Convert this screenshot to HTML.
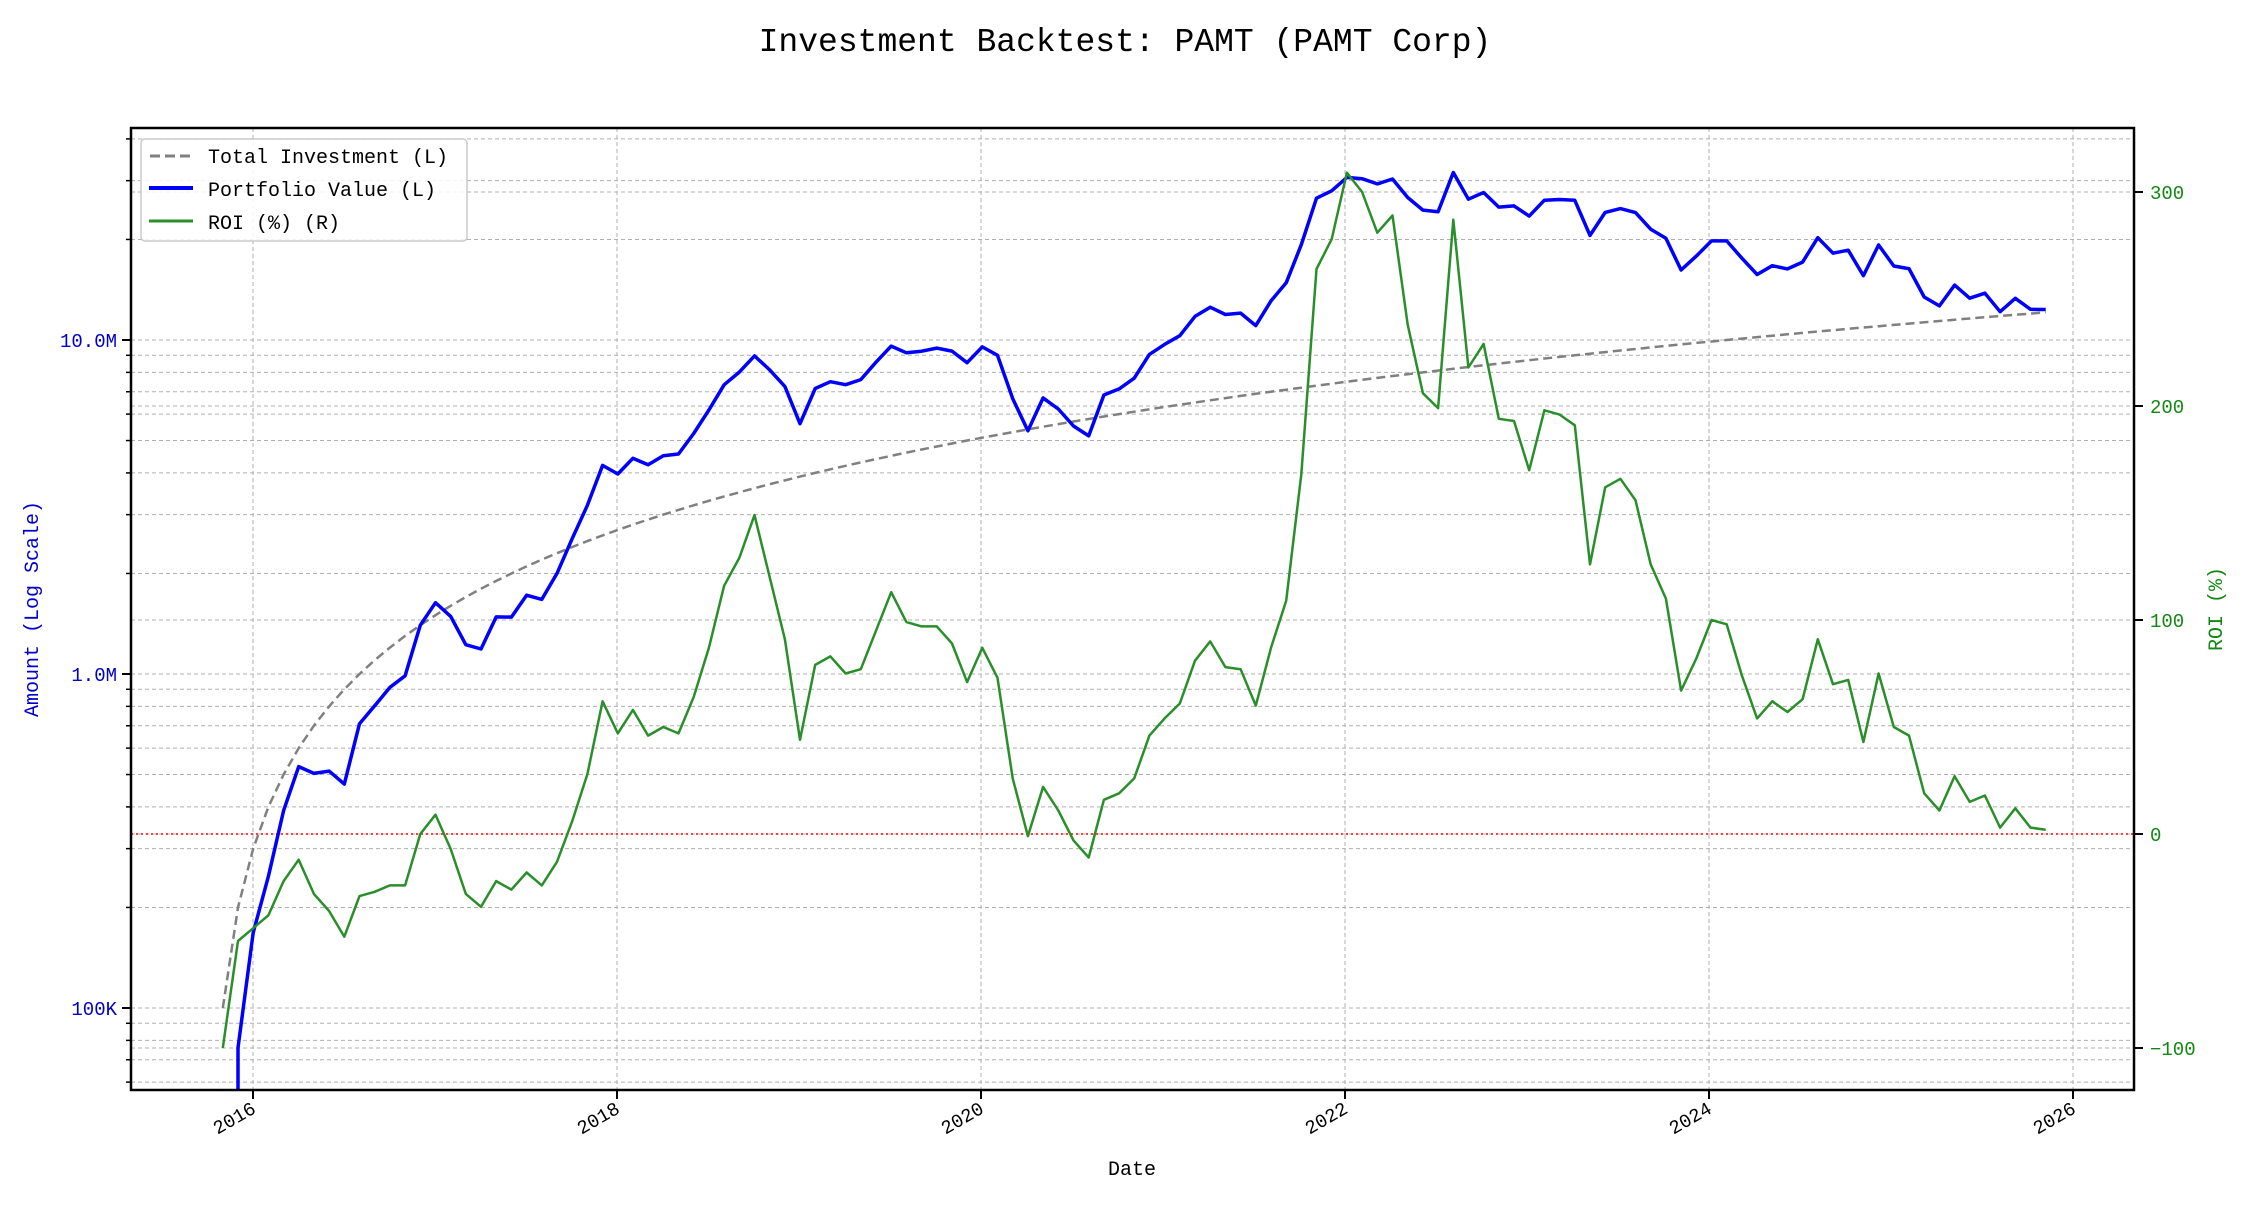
<!DOCTYPE html>
<html><head><meta charset="utf-8"><style>
html,body{margin:0;padding:0;background:#fff;}
svg text{font-family:"Liberation Mono","DejaVu Sans Mono",monospace;}
</style></head><body>
<svg id="c" width="2250" height="1200" xmlns="http://www.w3.org/2000/svg">
<rect width="2250" height="1200" fill="#fff"/>
<g id="grid"></g>
<g id="series"></g>
<rect x="131" y="128" width="2003" height="962" fill="none" stroke="#000" stroke-width="2.5"/>
<g id="ticks"></g>
<text x="1125" y="51" font-size="33" text-anchor="middle" fill="#000">Investment Backtest: PAMT (PAMT Corp)</text>
<text x="1132" y="1175" font-size="20" text-anchor="middle" fill="#000">Date</text>
<text transform="translate(38,609) rotate(-90)" font-size="20" text-anchor="middle" fill="#0000cc">Amount (Log Scale)</text>
<text transform="translate(2222,609) rotate(-90)" font-size="20" text-anchor="middle" fill="#118811">ROI (%)</text>
<g>
<rect x="141" y="139" width="326" height="102" rx="4" fill="#fff" fill-opacity="0.85" stroke="#ccc" stroke-width="1.5"/>
<line x1="150" y1="156" x2="193" y2="156" stroke="#808080" stroke-width="3" stroke-dasharray="10,5"/>
<line x1="149" y1="188" x2="193" y2="188" stroke="#0000ff" stroke-width="4"/>
<line x1="149" y1="221" x2="193" y2="221" stroke="#2a8f2a" stroke-width="3"/>
<text x="208" y="163" font-size="20">Total Investment (L)</text>
<text x="208" y="196" font-size="20">Portfolio Value (L)</text>
<text x="208" y="229" font-size="20">ROI (%) (R)</text>
</g>
</svg>
<script>
var NS="http://www.w3.org/2000/svg";
function el(p,t,a,txt){var e=document.createElementNS(NS,t);for(var k in a)e.setAttribute(k,a[k]);if(txt!==undefined)e.textContent=txt;document.getElementById(p).appendChild(e);return e;}
var L=131,R=2134,T=128,B=1090;
function yv(v){return 340-334*(Math.log10(v)-7);}
function yr(r){return 834-2.14*r;}
function xd(y){return 253+182*(y-2016);}
for(var d=4;d<=7;d++)for(var m=1;m<=9;m++){var v=m*Math.pow(10,d);var y=yv(v);if(y<T||y>B)continue;
el("grid","line",{x1:L,x2:R,y1:y,y2:y,stroke:"#b0b0b0","stroke-width":1,"stroke-dasharray":"4,3"});
el("ticks","line",{x1:L-(m==1?9:5),x2:L,y1:y,y2:y,stroke:"#000","stroke-width":m==1?2:1.5});
if(m==1){var lab=v>=1e6?(v/1e6).toFixed(1)+"M":(v/1e3)+"K";el("ticks","text",{x:L-14,y:y+7,"font-size":19,"text-anchor":"end",fill:"#0000cc"},lab);}}
[-100,0,100,200,300].forEach(function(r){var y=yr(r);
el("grid","line",{x1:L,x2:R,y1:y,y2:y,stroke:"#b0b0b0","stroke-width":1,"stroke-dasharray":"4,3"});
el("ticks","line",{x1:R,x2:R+9,y1:y,y2:y,stroke:"#000","stroke-width":2});
el("ticks","text",{x:R+16,y:y+7,"font-size":19,fill:"#118811"},String(r).replace("-","\u2212"));});
for(var yy=2016;yy<=2026;yy+=2){var x=xd(yy);
el("grid","line",{x1:x,x2:x,y1:T,y2:B,stroke:"#b0b0b0","stroke-width":1,"stroke-dasharray":"4,3"});
el("ticks","line",{x1:x,x2:x,y1:B,y2:B+9,stroke:"#000","stroke-width":2});
el("ticks","text",{transform:"translate("+(x+4)+","+(B+22)+") rotate(-30)","font-size":19,"text-anchor":"end"},String(yy));}
var roi=[-100,-50,-44,-38,-22,-12,-28,-36,-48,-29,-27,-24,-24,0,9,-7,-28,-34,-22,-26,-18,-24,-13,6,28,62,47,58,46,50,47,64,87,116,129,149,120,91,44,79,83,75,77,95,113,99,97,97,89,71,87,73,26,-1,22,11,-3,-11,16,19,26,46,54,61,81,90,78,77,60,87,109,168,264,278,309,300,281,289,238,206,199,287,218,229,194,193,170,198,196,191,126,162,166,156,126,110,67,82,100,98,74,54,62,57,63,91,70,72,43,75,50,46,19,11,27,15,18,3,12,3,2];
var n=roi.length,x0=xd(2015.834),x1=xd(2025.85);
var pi="",pv="",pr="";
function xi(i){return x0+(x1-x0)*i/(n-1);}
for(var i=0;i<n;i++){var x=xi(i);var inv=100000*(i+1);var val=inv*(1+roi[i]/100);
pi+=(i?"L":"M")+x.toFixed(1)+","+yv(inv).toFixed(1);
pr+=(i?"L":"M")+x.toFixed(1)+","+yr(roi[i]).toFixed(1);
if(i==0){pv+="M"+xi(1).toFixed(1)+","+(B+50);}
else if(i==1){pv+="L"+x.toFixed(1)+","+yv(76000).toFixed(1);}
else pv+="L"+x.toFixed(1)+","+yv(val).toFixed(1);}
var cp=el("series","clipPath",{id:"cp"});var cr=document.createElementNS(NS,"rect");cr.setAttribute("x",L);cr.setAttribute("y",T);cr.setAttribute("width",R-L);cr.setAttribute("height",B-T);cp.appendChild(cr);
el("series","line",{x1:L,x2:R,y1:yr(0),y2:yr(0),stroke:"#ff0000","stroke-width":1.5,"stroke-dasharray":"2,3"});
el("series","path",{d:pi,fill:"none",stroke:"#808080","stroke-width":2.5,"stroke-dasharray":"9,5","clip-path":"url(#cp)"});
el("series","path",{d:pv,fill:"none",stroke:"#0000ff","stroke-width":3.5,"clip-path":"url(#cp)","stroke-linejoin":"round"});
el("series","path",{d:pr,fill:"none",stroke:"#2a8f2a","stroke-width":2.5,"clip-path":"url(#cp)","stroke-linejoin":"round"});
</script>
</body></html>
